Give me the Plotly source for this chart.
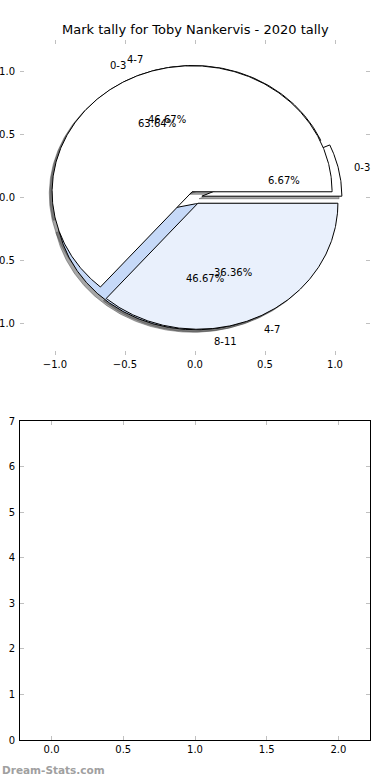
import numpy as np
import plotly.graph_objects as go

# ---- data ----
title_text = "Mark tally for Toby Nankervis - 2020 tally"
labels_a = ["0-3", "4-7", "8-11"]
values_a = [1, 7, 7]
labels_b = ["0-3", "4-7"]
values_b = [7, 4]
pie_ticks = [-1.0, -0.5, 0.0, 0.5, 1.0]
bar_categories = []
bar_values = []
bar_xticks = [0.0, 0.5, 1.0, 1.5, 2.0]
bar_yticks = [0, 1, 2, 3, 4, 5, 6, 7]

# ---- style ----
colors_a = ["#ffffff", "#ffffff", "#c6d9f8"]
colors_b = ["#ffffff", "#e9f0fc"]
EXPLODE = 0.05
SHADOW = -0.02
FONT = "DejaVu Sans"
TICKC = "#c0c0c0"
W, H = 390, 780
ML, MR = 20, 20
PW = W - ML - MR


def py(page_y):
    return 1 - page_y / H


fig = go.Figure()


def wedge_geometry(values):
    total = float(sum(values))
    out = []
    start = 0.0
    for v in values:
        t1 = 360.0 * start / total
        t2 = 360.0 * (start + v) / total
        mid = np.deg2rad((t1 + t2) / 2)
        cx, cy = EXPLODE * np.cos(mid), EXPLODE * np.sin(mid)
        th = np.deg2rad(np.linspace(t1, t2, max(int(abs(t2 - t1)), 2) * 2))
        xs = np.concatenate([[cx], cx + np.cos(th), [cx]])
        ys = np.concatenate([[cy], cy + np.sin(th), [cy]])
        out.append((xs, ys, mid, cx, cy, v / total))
        start += v
    return out


geo_a = wedge_geometry(values_a)
geo_b = wedge_geometry(values_b)

# shadows (drawn beneath all wedges)
for geo in (geo_a, geo_b):
    for xs, ys, *_ in geo:
        fig.add_trace(go.Scatter(x=xs + SHADOW, y=ys + SHADOW, mode="lines", fill="toself",
                                 fillcolor="rgba(77,77,77,0.5)",
                                 line=dict(color="rgba(77,77,77,0.5)", width=1),
                                 hoverinfo="skip", showlegend=False, xaxis="x", yaxis="y"))

annotations = []
for geo, labels, colors in ((geo_a, labels_a, colors_a), (geo_b, labels_b, colors_b)):
    for (xs, ys, mid, cx, cy, frac), lab, col in zip(geo, labels, colors):
        fig.add_trace(go.Scatter(x=xs, y=ys, mode="lines", fill="toself", fillcolor=col,
                                 line=dict(color="black", width=1),
                                 hoverinfo="skip", showlegend=False, xaxis="x", yaxis="y"))
        lx = cx + 1.1 * np.cos(mid)
        ly = cy + 1.1 * np.sin(mid)
        annotations.append(dict(x=lx, y=ly, xref="x", yref="y", text=lab, showarrow=False,
                                xanchor="left" if lx > 0 else "right", yanchor="middle",
                                font=dict(family=FONT, size=10, color="black")))
        px_ = cx + 0.6 * np.cos(mid)
        py_ = cy + 0.6 * np.sin(mid)
        annotations.append(dict(x=px_, y=py_, xref="x", yref="y", text="%1.2f%%" % (frac * 100),
                                showarrow=False, xanchor="center", yanchor="middle",
                                font=dict(family=FONT, size=10, color="black")))

# empty bar subplot
fig.add_trace(go.Bar(x=bar_categories, y=bar_values, xaxis="x2", yaxis="y2", showlegend=False))

annotations.append(dict(x=(195 - ML) / PW, y=py(30), xref="paper", yref="paper", text=title_text,
                        showarrow=False, xanchor="center", yanchor="middle",
                        font=dict(family=FONT, size=13, color="black")))
annotations.append(dict(x=-ML / PW, y=py(770), xref="paper", yref="paper",
                        text="<b>Dream-Stats.com</b>", showarrow=False, xanchor="left",
                        yanchor="middle", font=dict(family=FONT, size=10.5, color="#a0a0a0")))

axis_common = dict(ticks="inside", ticklen=4, tickcolor=TICKC, tickwidth=1,
                   showgrid=False, zeroline=False, automargin=False,
                   tickfont=dict(family=FONT, size=10, color="black"))

fig.update_layout(
    width=W, height=H,
    margin=dict(l=ML, r=MR, t=0, b=0),
    paper_bgcolor="white", plot_bgcolor="white",
    showlegend=False,
    annotations=annotations,
    xaxis=dict(domain=[0, 1], range=[-1.25, 1.25], anchor="y", tickvals=pie_ticks,
               tickformat=".1f", showline=False, mirror="ticks", ticklabelstandoff=2,
               **axis_common),
    yaxis=dict(domain=[py(355), py(40)], range=[-1.25, 1.25], anchor="x",
               tickvals=pie_ticks, tickformat=".1f", showline=False, mirror="ticks",
               ticklabelstandoff=4, **axis_common),
    xaxis2=dict(domain=[0, 1], range=[-0.22, 2.22], anchor="y2", tickvals=bar_xticks,
                tickformat=".1f", showline=True, linecolor="black", linewidth=1,
                mirror="ticks", **axis_common),
    yaxis2=dict(domain=[py(740), py(421)], range=[0, 7], anchor="x2",
                tickvals=bar_yticks, showline=True, linecolor="black", linewidth=1,
                mirror="ticks", ticklabelstandoff=2, **axis_common),
)

fig.write_html("out.html", config={"displayModeBar": False},
               post_script="document.body.style.margin='0px';")
